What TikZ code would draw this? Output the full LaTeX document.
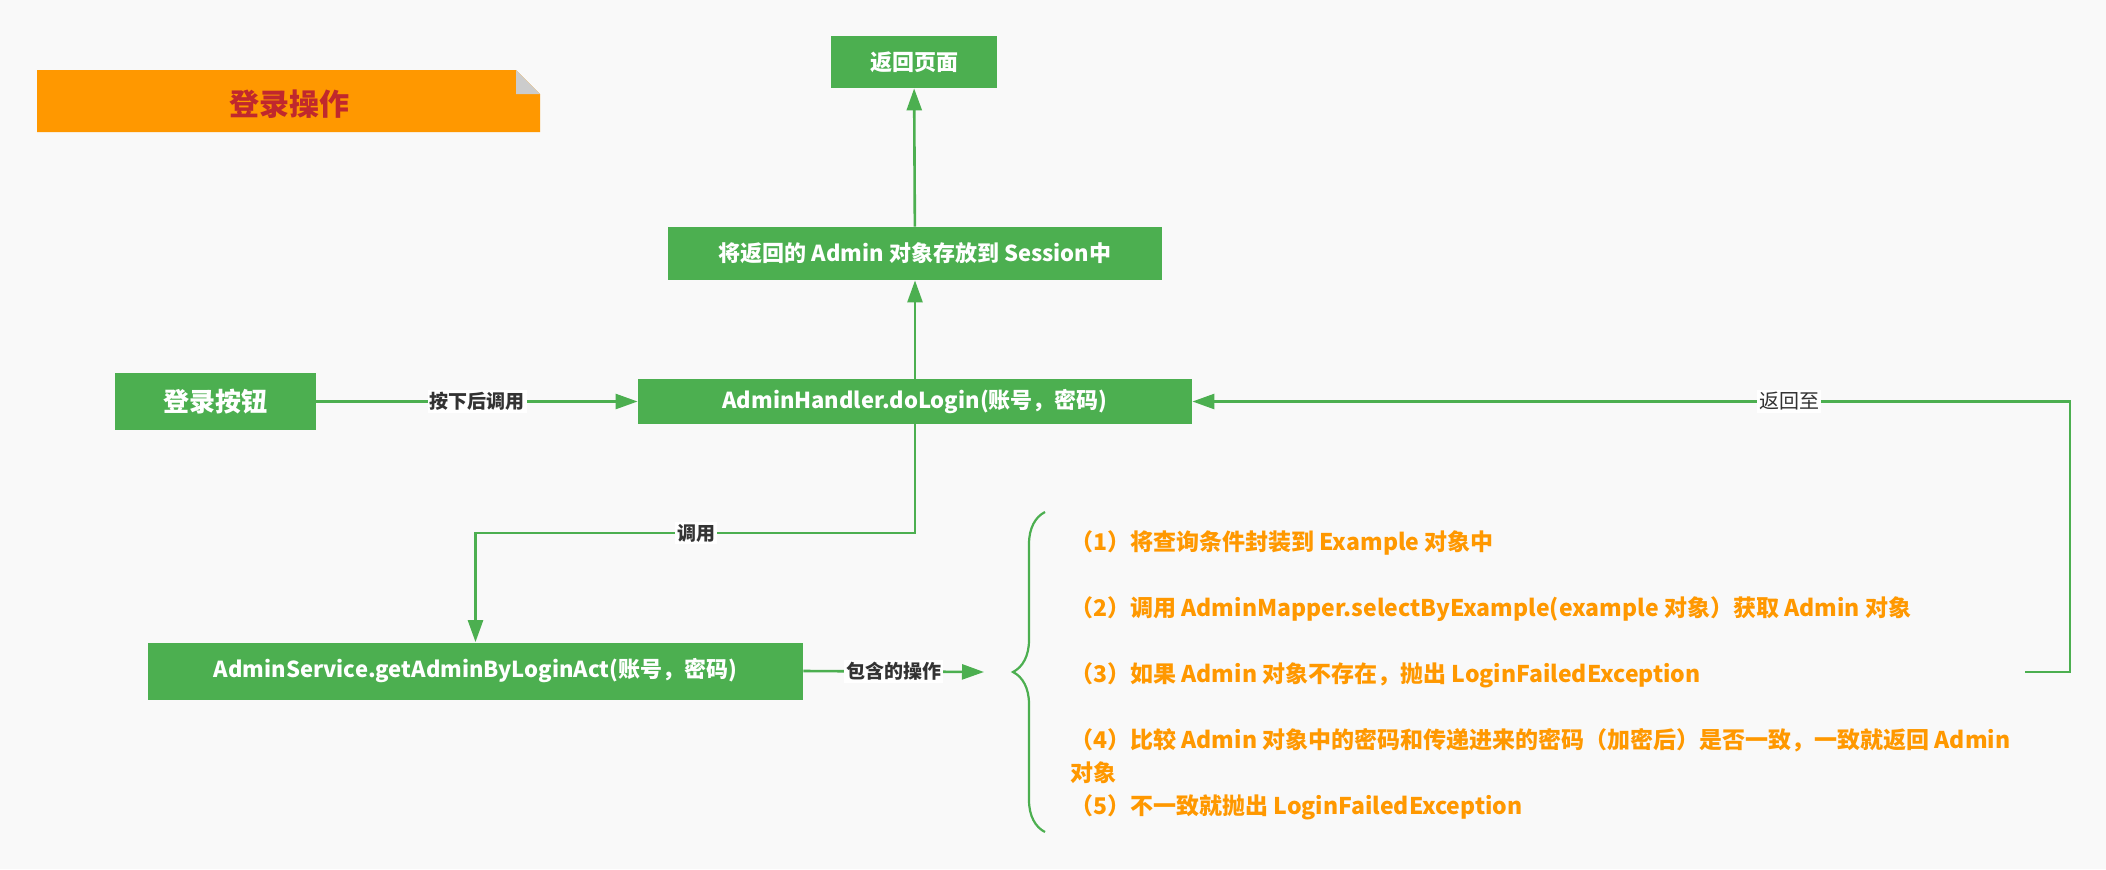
\documentclass[tikz,border=0pt]{standalone}
\usepackage{fontspec}
\setmainfont{Noto Sans CJK SC}
\usepackage{xcolor}
\usepackage{tikz}
\usetikzlibrary{arrows.meta}
\usetikzlibrary{decorations.pathreplacing}
\definecolor{flowgreen}{HTML}{4CAF50}
\definecolor{noteorange}{HTML}{FF9800}
\definecolor{titlered}{HTML}{C0282D}
\definecolor{bggray}{HTML}{F9F9F9}
\definecolor{foldgray}{HTML}{CCCCCC}
\definecolor{labelgray}{HTML}{333333}

\begin{document}
\begin{tikzpicture}[x=0.5pt,y=-0.5pt,
        greenbox/.style={fill=flowgreen,text=white,inner sep=0pt,font=\bfseries\fontsize{11}{13}\selectfont},
        flow/.style={draw=flowgreen,line width=1.3pt,-{Triangle[length=11pt,width=7.5pt]}},
        lbl/.style={fill=white,inner sep=1pt,text=labelgray,font=\bfseries\fontsize{9.5}{11}\selectfont}]
        \fill[bggray] (0,0) rectangle (2106,869);

        % title note
        \fill[noteorange] (37,70) -- (516,70) -- (540,94) -- (540,132) -- (37,132) -- cycle;
        \fill[foldgray] (516,70) -- (540,94) -- (516,94) -- cycle;
        \node[text=titlered,font=\bfseries\fontsize{15}{17}\selectfont] (title) at (289,104) {登录操作};

        \node[greenbox,minimum width=83pt,minimum height=26pt] (page) at (914,62) {返回页面};
        \node[greenbox,minimum width=247pt,minimum height=26.5pt] (session) at (915,253.5) {将返回的 Admin 对象存放到 Session中};
        \node[greenbox,minimum width=277pt,minimum height=22.5pt] (handler) at (915,401.5) {AdminHandler.doLogin(账号，密码)};
        \node[greenbox,minimum width=100.5pt,minimum height=28.5pt,font=\bfseries\fontsize{13}{15}\selectfont] (button) at (215.5,401.5) {登录按钮};
        \node[greenbox,minimum width=327.5pt,minimum height=28.5pt] (service) at (475.5,671) {AdminService.getAdminByLoginAct(账号，密码)};

        \node[anchor=west,inner sep=0pt,align=left,text=noteorange,font=\bfseries\fontsize{11.5}{16.5}\selectfont] (ops) at (1070,675)
            {（1）将查询条件封装到 Example 对象中\\[16.5pt]
             （2）调用 AdminMapper.selectByExample(example 对象）获取 Admin 对象\\[16.5pt]
             （3）如果 Admin 对象不存在，抛出 LoginFailedException\\[16.5pt]
             （4）比较 Admin 对象中的密码和传递进来的密码（加密后）是否一致，一致就返回 Admin\\
             对象\\
             （5）不一致就抛出 LoginFailedException};
        \draw[flowgreen,line width=1.1pt,decorate,decoration={brace,amplitude=16pt}] (1045,832) -- (1045,512);

        \coordinate (opsin) at (984,672);
        \coordinate (retstart) at (2025,672);
        \coordinate (bend) at (696,533);

        \draw[flow] (button) -- node[lbl]{按下后调用} (handler);
        \draw[flow] (handler) -- (session);
        \draw[flow] (session) -- (page);
        \draw[flow] (handler.south) |- (bend) node[lbl]{调用} -| (service.north);
        \draw[flow] (service.east) -- node[lbl]{包含的操作} (opsin);
        \draw[flow] (retstart) -- ++(45,0) |- node[pos=0.66,lbl,font=\fontsize{10}{12}\selectfont]{返回至} (handler.east);
    \end{tikzpicture}
\end{document}
